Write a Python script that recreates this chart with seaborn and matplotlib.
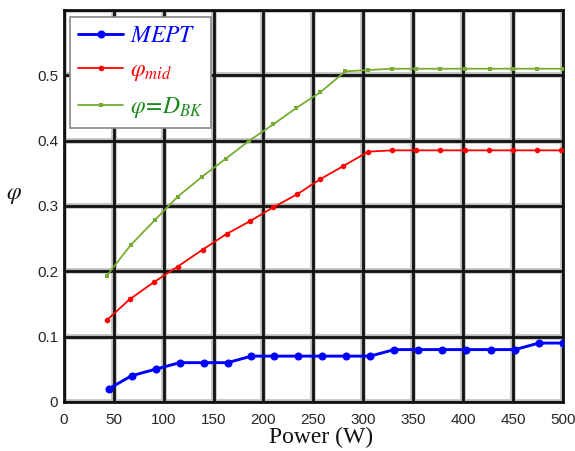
import numpy as np
import pandas as pd
import matplotlib
matplotlib.use("Agg")
import matplotlib.pyplot as plt
import seaborn as sns

# Output power samples (W) and the corresponding phase-shift ratios
power_mept = [45, 68, 92, 116, 140, 164, 188, 211, 235, 259, 283, 307, 331, 355, 379, 403, 428, 452, 476, 500]
phi_mept = [0.02, 0.04, 0.05, 0.06, 0.06, 0.06, 0.07, 0.07, 0.07, 0.07, 0.07, 0.07,
            0.08, 0.08, 0.08, 0.08, 0.08, 0.08, 0.09, 0.09]

power_mid = [43, 66, 90, 114, 139, 163, 187, 210, 234, 257, 280, 305, 329, 353, 377, 402, 426, 450, 474, 498]
phi_mid = [0.125, 0.157, 0.183, 0.207, 0.233, 0.257, 0.277, 0.298, 0.318, 0.341, 0.361, 0.383,
           0.385, 0.385, 0.385, 0.385, 0.385, 0.385, 0.385, 0.385]

power_dbk = [43, 67, 91, 114, 138, 162, 186, 210, 233, 257, 282, 305, 329, 353, 377, 402, 427, 450, 474, 500]
phi_dbk = [0.193, 0.240, 0.278, 0.314, 0.344, 0.372, 0.400, 0.425, 0.450, 0.474, 0.506, 0.508,
           0.510, 0.510, 0.510, 0.510, 0.510, 0.510, 0.510, 0.510]

x_ticks = [0, 50, 100, 150, 200, 250, 300, 350, 400, 450, 500]
y_ticks = [0, 0.1, 0.2, 0.3, 0.4, 0.5]

sns.set_style("white")
plt.rcParams["mathtext.fontset"] = "stix"
plt.rcParams["font.family"] = ["Liberation Sans", "DejaVu Sans"]

fig = plt.figure(figsize=(5.75, 4.51), dpi=100)
ax = fig.add_axes([0.111, 0.109, 0.868, 0.869])

# heavy black grid with a soft grey halo
for gx in x_ticks:
    ax.axvline(gx, color="#bbbbbb", lw=4.0, zorder=0)
    ax.axvline(gx, color="#111111", lw=2.0, zorder=0.5)
for gy in [0, 0.1, 0.2, 0.3, 0.4, 0.5, 0.6]:
    ax.axhline(gy, color="#bbbbbb", lw=4.0, zorder=0)
    ax.axhline(gy, color="#111111", lw=2.0, zorder=0.5)

df_mept = pd.DataFrame({"Power": power_mept, "phi": phi_mept})
df_mid = pd.DataFrame({"Power": power_mid, "phi": phi_mid})
df_dbk = pd.DataFrame({"Power": power_dbk, "phi": phi_dbk})

sns.lineplot(data=df_mept, x="Power", y="phi", ax=ax, color="#0000ff", lw=2.1,
             marker="o", markersize=5.8, markeredgewidth=0, label=r"$MEPT$", zorder=5)
sns.lineplot(data=df_mid, x="Power", y="phi", ax=ax, color="#ff0000", lw=1.3,
             marker="o", markersize=4, markeredgewidth=0, label=r"$\varphi_{mid}$", zorder=4)
sns.lineplot(data=df_dbk, x="Power", y="phi", ax=ax, color="#77ac30", lw=1.3,
             marker="s", markersize=3.2, markeredgewidth=0, label=r"$\varphi\!=\!D_{BK}$", zorder=4)

ax.set_xlim(0, 500)
ax.set_ylim(0, 0.6)
ax.set_xticks(x_ticks)
ax.set_yticks(y_ticks)
ax.set_xticklabels([str(v) for v in x_ticks])
ax.set_yticklabels(["0", "0.1", "0.2", "0.3", "0.4", "0.5"])
ax.tick_params(axis="both", labelsize=11, colors="#262626", length=0)
ax.tick_params(axis="x", pad=8)
ax.tick_params(axis="y", pad=4)

for s in ax.spines.values():
    s.set_color("#111111")
    s.set_linewidth(2.0)

ax.set_xlabel("Power (W)", fontsize=17, family="Liberation Serif", color="#111111")
ax.xaxis.set_label_coords(0.515, -0.064)
ax.set_ylabel(r"$\varphi$", fontsize=17, rotation=0, color="#111111")
ax.yaxis.set_label_coords(-0.1, 0.5)

leg = ax.legend(loc="upper left", bbox_to_anchor=(6 / 499, 1 - 7 / 392), borderaxespad=0,
                fontsize=17, frameon=True, fancybox=False, edgecolor="#888888", framealpha=1,
                handlelength=1.9, labelspacing=0.5, borderpad=0.35, handletextpad=0.3)
leg.get_frame().set_linewidth(1.2)
for txt, c in zip(leg.get_texts(), ["#0000ff", "#ff0000", "#1a8a1a"]):
    txt.set_color(c)

fig.savefig("out.png", dpi=100)
